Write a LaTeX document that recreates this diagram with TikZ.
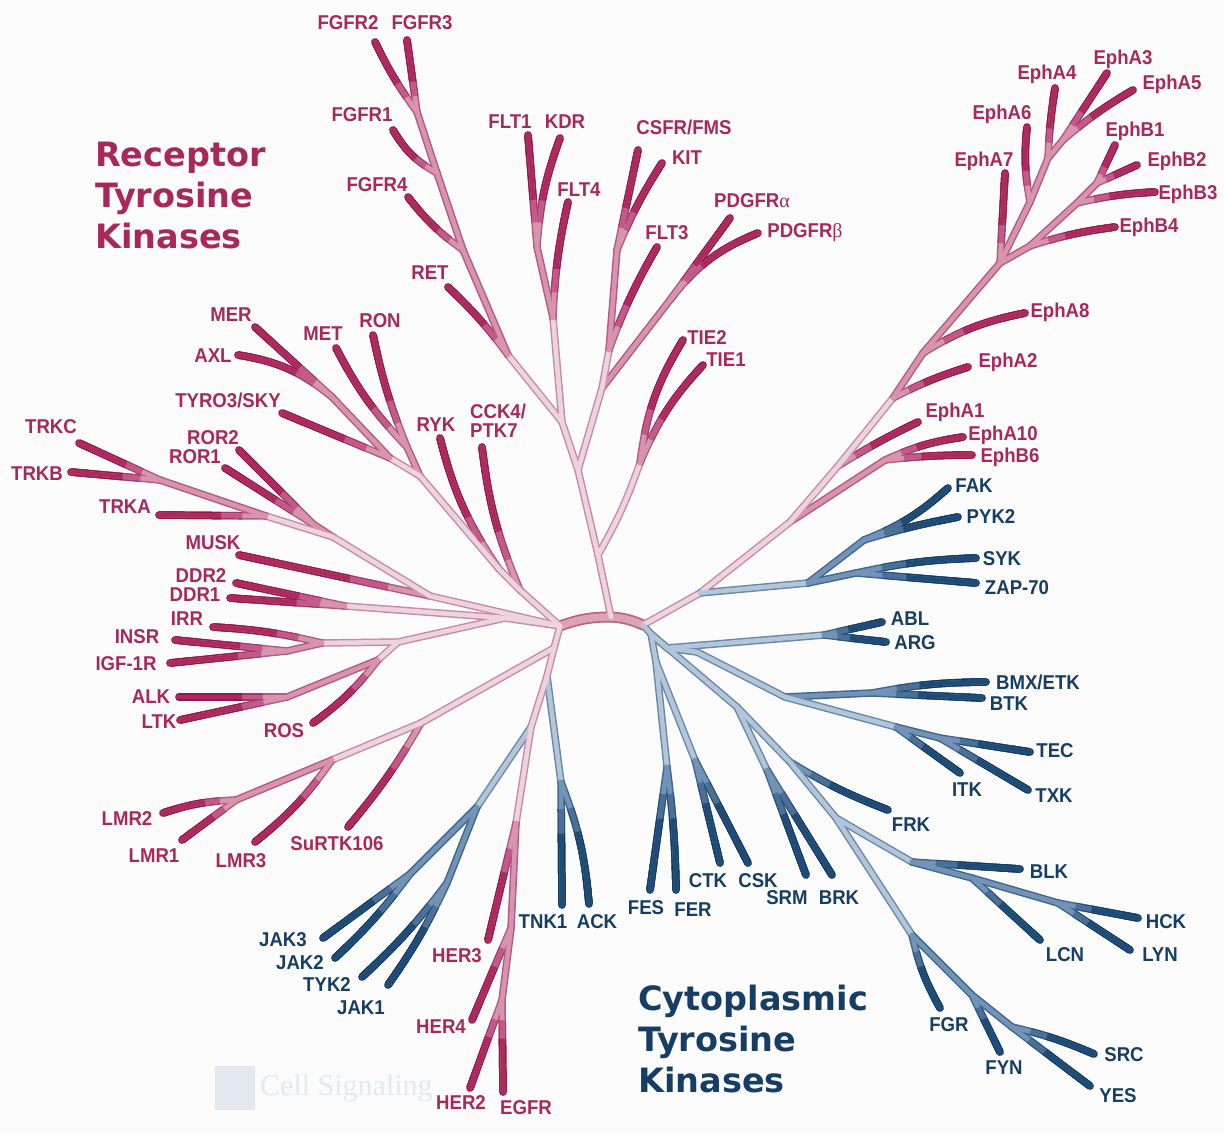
\documentclass[tikz,border=0pt]{standalone}
\usepackage{fontspec}
\setmainfont{Liberation Sans}
\newfontfamily\labfont[FakeStretch=0.93]{Liberation Sans}
\newfontfamily\titfont{DejaVu Sans}
\newfontfamily\grkfont{Liberation Serif}
\newfontfamily\wmfont{Liberation Serif}
\definecolor{bgc}{HTML}{FBFBFB}
\definecolor{pklab}{HTML}{A8285A}
\definecolor{bllab}{HTML}{163E64}
\definecolor{pkLo}{HTML}{C68CA5}
\definecolor{pkLi}{HTML}{EDD3DE}
\definecolor{pkMo}{HTML}{B25A80}
\definecolor{pkMi}{HTML}{D893AF}
\definecolor{pkXo}{HTML}{A3386A}
\definecolor{pkXi}{HTML}{C25987}
\definecolor{pkDo}{HTML}{94184A}
\definecolor{pkDi}{HTML}{AC2A5E}
\definecolor{blLo}{HTML}{6A88A8}
\definecolor{blLi}{HTML}{B3C5D8}
\definecolor{blMo}{HTML}{3F668E}
\definecolor{blMi}{HTML}{7393B6}
\definecolor{blXo}{HTML}{2A5078}
\definecolor{blXi}{HTML}{4A7098}
\definecolor{blDo}{HTML}{143A5E}
\definecolor{blDi}{HTML}{1F4C77}
\definecolor{barO}{HTML}{B5627F}
\definecolor{barI}{HTML}{DCA3B7}
\definecolor{wmc}{HTML}{E3E9EE}
\newdimen\lax \newdimen\lay \newdimen\lbx \newdimen\lby
\newcommand\ted[4]{\draw[#1] (#2) to[#4] (#3);}
\newcommand\tlf[4]{%
 \pgfextractx{\lax}{\pgfpointanchor{#2}{center}}%
 \pgfextracty{\lay}{\pgfpointanchor{#2}{center}}%
 \pgfextractx{\lbx}{\pgfpointanchor{#3}{center}}%
 \pgfextracty{\lby}{\pgfpointanchor{#3}{center}}%
 \pgfmathsetmacro\lla{0.22*veclen(\lbx-\lax,\lby-\lay)}%
 \pgfmathsetmacro\llb{0.42*veclen(\lbx-\lax,\lby-\lay)}%
 \pgfmathsetmacro\llc{0.80*veclen(\lbx-\lax,\lby-\lay)}%
 \draw[#1M] (#2) to[#4] (#3);%
 \draw[#1X,line cap=butt,dash pattern=on 3000pt off \lla pt,dash phase=3000pt] (#2) to[#4] (#3);%
 \draw[#1D,line cap=butt,dash pattern=on 3000pt off \llb pt,dash phase=3000pt] (#2) to[#4] (#3);%
 \draw[#1D,dash pattern=on 3000pt off \llc pt,dash phase=3000pt] (#2) to[#4] (#3);}
\newcommand\passouter{\tikzset{
 pkL/.style={line width=7.5pt,draw=pkLo,line cap=round},
 pkM/.style={line width=7.5pt,draw=pkMo,line cap=round},
 pkX/.style={line width=7.5pt,draw=pkXo,line cap=round},
 pkD/.style={line width=7.5pt,draw=pkDo,line cap=round},
 blL/.style={line width=7.5pt,draw=blLo,line cap=round},
 blM/.style={line width=7.5pt,draw=blMo,line cap=round},
 blX/.style={line width=7.5pt,draw=blXo,line cap=round},
 blD/.style={line width=7.5pt,draw=blDo,line cap=round},
 bar/.style={line width=11pt,draw=barO,line cap=round}}}
\newcommand\passinner{\tikzset{
 pkL/.style={line width=4.6pt,draw=pkLi,line cap=round},
 pkM/.style={line width=4.6pt,draw=pkMi,line cap=round},
 pkX/.style={line width=4.6pt,draw=pkXi,line cap=round},
 pkD/.style={line width=4.6pt,draw=pkDi,line cap=round},
 blL/.style={line width=4.6pt,draw=blLi,line cap=round},
 blM/.style={line width=4.6pt,draw=blMi,line cap=round},
 blX/.style={line width=4.6pt,draw=blXi,line cap=round},
 blD/.style={line width=4.6pt,draw=blDi,line cap=round},
 bar/.style={line width=7.6pt,draw=barI,line cap=round}}}
\newcommand\drawtree{%
\draw[bar] (CL) to[bend left=10] (CM) to[bend left=10] (CR);
% ---- top clade
\ted{pkL}{CM}{A1}{}
\ted{pkL}{A1}{TJ}{bend right=5}
\tlf{pk}{TJ}{tTIE2}{bend left=12}
\tlf{pk}{TJ}{tTIE1}{bend left=10}
\ted{pkL}{A1}{A2}{}
\ted{pkL}{A2}{B1}{}
\ted{pkM}{B1}{PD}{}
\tlf{pk}{PD}{tPDGFRa}{}
\tlf{pk}{PD}{tPDGFRb}{bend left=15}
\ted{pkL}{B1}{B2}{}
\tlf{pk}{B2}{tFLT3}{bend left=5}
\ted{pkM}{B2}{B3}{}
\tlf{pk}{B3}{tCSFR}{}
\tlf{pk}{B3}{tKIT}{bend left=5}
\ted{pkL}{A2}{A3}{}
\ted{pkL}{A3}{F1}{}
\tlf{pk}{F1}{tFLT4}{bend left=5}
\ted{pkM}{F1}{F2}{}
\tlf{pk}{F2}{tFLT1}{}
\tlf{pk}{F2}{tKDR}{bend left=8}
\ted{pkL}{A3}{R0}{}
\tlf{pk}{R0}{tRET}{bend right=5}
\ted{pkM}{R0}{G4}{}
\tlf{pk}{G4}{tFGFR4}{bend left=8}
\ted{pkM}{G4}{G1}{}
\tlf{pk}{G1}{tFGFR1}{bend left=15}
\ted{pkM}{G1}{G23}{}
\tlf{pk}{G23}{tFGFR2}{bend left=5}
\tlf{pk}{G23}{tFGFR3}{}
% ---- upper left clade
\ted{pkL}{CL}{U0}{}
\tlf{pk}{U0}{tCCK4}{bend left=8}
\ted{pkL}{U0}{U1}{}
\tlf{pk}{U1}{tRYK}{bend left=10}
\ted{pkL}{U1}{U2}{}
\ted{pkM}{U2}{MR}{}
\tlf{pk}{MR}{tMET}{bend left=8}
\tlf{pk}{MR}{tRON}{bend left=5}
\ted{pkL}{U2}{U3}{}
\tlf{pk}{U3}{tTYRO3}{}
\ted{pkM}{U3}{MA}{}
\tlf{pk}{MA}{tMER}{}
\tlf{pk}{MA}{tAXL}{bend right=15}
% ---- TRK / ROR / MUSK
\ted{pkL}{CL}{K0}{}
\tlf{pk}{K0}{tMUSK}{}
\ted{pkL}{K0}{K1}{}
\ted{pkM}{K1}{RR}{}
\tlf{pk}{RR}{tROR2}{}
\tlf{pk}{RR}{tROR1}{}
\ted{pkL}{K1}{K2}{}
\tlf{pk}{K2}{tTRKA}{}
\ted{pkM}{K2}{K3}{}
\tlf{pk}{K3}{tTRKC}{}
\tlf{pk}{K3}{tTRKB}{}
% ---- DDR / insulin / ALK
\ted{pkL}{CL}{LL}{}
\ted{pkL}{LL}{DD}{}
\tlf{pk}{DD}{tDDR2}{}
\tlf{pk}{DD}{tDDR1}{}
\ted{pkL}{LL}{IN0}{}
\ted{pkL}{IN0}{IR}{}
\tlf{pk}{IR}{tIRR}{bend right=5}
\ted{pkM}{IR}{IG}{}
\tlf{pk}{IG}{tINSR}{}
\tlf{pk}{IG}{tIGF}{}
\ted{pkL}{IN0}{AL}{}
\tlf{pk}{AL}{tROS}{bend left=8}
\ted{pkM}{AL}{AK}{}
\tlf{pk}{AK}{tALK}{}
\tlf{pk}{AK}{tLTK}{}
% ---- lower clade
\ted{pkL}{CL}{D1}{}
\ted{pkL}{D1}{LM0}{}
\tlf{pk}{LM0}{tSuRTK}{bend left=5}
\ted{pkL}{LM0}{LM1}{}
\tlf{pk}{LM1}{tLMR3}{bend left=8}
\ted{pkM}{LM1}{LM2}{}
\tlf{pk}{LM2}{tLMR2}{bend right=8}
\tlf{pk}{LM2}{tLMR1}{}
\ted{pkL}{D1}{D2}{}
\ted{blL}{D2}{TA}{}
\tlf{bl}{TA}{tTNK1}{}
\tlf{bl}{TA}{tACK}{bend left=8}
\ted{pkL}{D2}{D3}{}
\ted{blL}{D3}{J0}{}
\ted{blM}{J0}{JJ}{}
\tlf{bl}{JJ}{tJAK3}{}
\tlf{bl}{JJ}{tJAK2}{bend left=5}
\ted{blM}{J0}{TK}{}
\tlf{bl}{TK}{tTYK2}{bend left=5}
\tlf{bl}{TK}{tJAK1}{bend left=5}
\ted{pkL}{D3}{H0}{}
\tlf{pk}{H0}{tHER3}{}
\ted{pkM}{H0}{H1}{}
\tlf{pk}{H1}{tHER4}{}
\ted{pkM}{H1}{H2}{}
\tlf{pk}{H2}{tHER2}{}
\tlf{pk}{H2}{tEGFR}{}
% ---- Eph clade
\ted{pkL}{CR}{E1}{}
\ted{pkL}{E1}{E2}{}
\ted{pkM}{E2}{EAB}{}
\tlf{pk}{EAB}{tEphA10}{bend left=8}
\tlf{pk}{EAB}{tEphB6}{bend left=3}
\ted{pkL}{E2}{E3}{}
\tlf{pk}{E3}{tEphA1}{bend left=3}
\ted{pkL}{E3}{E4}{}
\tlf{pk}{E4}{tEphA2}{bend left=5}
\ted{pkM}{E4}{E5}{}
\tlf{pk}{E5}{tEphA8}{bend left=10}
\ted{pkM}{E5}{E0}{}
\ted{pkM}{E0}{EB4}{}
\tlf{pk}{EB4}{tEphB4}{bend left=5}
\ted{pkM}{EB4}{EB3}{}
\tlf{pk}{EB3}{tEphB3}{bend left=5}
\ted{pkM}{EB3}{EB12}{}
\tlf{pk}{EB12}{tEphB1}{}
\tlf{pk}{EB12}{tEphB2}{}
\tlf{pk}{E0}{tEphA7}{}
\ted{pkM}{E0}{EA1}{}
\tlf{pk}{EA1}{tEphA6}{bend left=8}
\ted{pkM}{EA1}{EA2}{}
\tlf{pk}{EA2}{tEphA4}{bend left=3}
\ted{pkM}{EA2}{EA3}{}
\tlf{pk}{EA3}{tEphA3}{}
\tlf{pk}{EA3}{tEphA5}{bend left=5}
% ---- blue clades
\ted{blL}{E1}{FK0}{}
\ted{blM}{FK0}{FP}{}
\tlf{bl}{FP}{tFAK}{bend right=10}
\tlf{bl}{FP}{tPYK2}{bend left=3}
\ted{blM}{FK0}{SZ}{}
\tlf{bl}{SZ}{tSYK}{bend left=5}
\tlf{bl}{SZ}{tZAP}{}
\ted{blL}{CR}{B0}{}
\ted{blL}{B0}{F1b}{}
\ted{blL}{F1b}{FF}{}
\tlf{bl}{FF}{tFES}{}
\tlf{bl}{FF}{tFER}{bend left=3}
\ted{blL}{F1b}{CC}{}
\tlf{bl}{CC}{tCTK}{}
\tlf{bl}{CC}{tCSK}{}
\ted{blL}{B0}{Q2}{}
\ted{blL}{Q2}{AB}{}
\tlf{bl}{AB}{tABL}{}
\tlf{bl}{AB}{tARG}{}
\ted{blL}{Q2}{Q3}{}
\ted{blL}{Q3}{T1}{}
\ted{blM}{T1}{BB}{}
\tlf{bl}{BB}{tBMX}{bend left=5}
\tlf{bl}{BB}{tBTK}{}
\ted{blL}{T1}{T2}{}
\tlf{bl}{T2}{tITK}{}
\ted{blM}{T2}{TT}{}
\tlf{bl}{TT}{tTEC}{}
\tlf{bl}{TT}{tTXK}{}
\ted{blL}{B0}{M1}{}
\ted{blL}{M1}{SB}{}
\tlf{bl}{SB}{tSRM}{}
\tlf{bl}{SB}{tBRK}{}
\ted{blL}{M1}{M2}{}
\tlf{bl}{M2}{tFRK}{bend right=5}
\ted{blL}{M2}{S1}{}
\ted{blL}{S1}{L1}{}
\tlf{bl}{L1}{tBLK}{}
\ted{blM}{L1}{L2}{}
\tlf{bl}{L2}{tLCN}{}
\ted{blM}{L2}{HL}{}
\tlf{bl}{HL}{tHCK}{}
\tlf{bl}{HL}{tLYN}{}
\ted{blL}{S1}{G1s}{}
\tlf{bl}{G1s}{tFGR}{bend right=8}
\ted{blM}{G1s}{G2s}{}
\tlf{bl}{G2s}{tFYN}{}
\ted{blM}{G2s}{SY}{}
\tlf{bl}{SY}{tSRC}{bend left=5}
\tlf{bl}{SY}{tYES}{}
}
\begin{document}
\begin{tikzpicture}[x=1pt,y=-1pt,
  lab/.style={font=\labfont\bfseries\fontsize{20}{19}\selectfont,inner sep=0pt,anchor=base},
  pk/.style={lab,text=pklab},
  bl/.style={lab,text=bllab},
  ttl/.style={font=\titfont\bfseries\fontsize{33.5}{41}\selectfont,inner sep=0pt,anchor=base west}]
\fill[bgc] (0,0) rectangle (1224,1133);
\useasboundingbox (0,0) rectangle (1224,1133);
% ---------- coordinates
\coordinate (CL) at (560,626); \coordinate (CM) at (611,617); \coordinate (CR) at (643,625);
\coordinate (A1) at (598,555); \coordinate (TJ) at (640,463);
\coordinate (tTIE2) at (683,340); \coordinate (tTIE1) at (703,365);
\coordinate (A2) at (578,470); \coordinate (B1) at (602,388); \coordinate (PD) at (670,300);
\coordinate (tPDGFRa) at (730,218); \coordinate (tPDGFRb) at (758,233);
\coordinate (B2) at (609,350); \coordinate (tFLT3) at (657,247);
\coordinate (B3) at (617,250); \coordinate (tCSFR) at (638,150); \coordinate (tKIT) at (662,163);
\coordinate (A3) at (562,422); \coordinate (F1) at (553,318); \coordinate (tFLT4) at (568,202);
\coordinate (F2) at (537,247); \coordinate (tFLT1) at (528,135); \coordinate (tKDR) at (560,138);
\coordinate (R0) at (508,355); \coordinate (tRET) at (448,287);
\coordinate (G4) at (463,250); \coordinate (tFGFR4) at (408,197);
\coordinate (G1) at (437,173); \coordinate (tFGFR1) at (393,130);
\coordinate (G23) at (417,112); \coordinate (tFGFR2) at (375,42); \coordinate (tFGFR3) at (407,40);
\coordinate (U0) at (520,590); \coordinate (tCCK4) at (482,447);
\coordinate (U1) at (499,569); \coordinate (tRYK) at (440,438);
\coordinate (U2) at (420,476); \coordinate (MR) at (407,447);
\coordinate (tMET) at (336,348); \coordinate (tRON) at (373,335);
\coordinate (U3) at (390,458); \coordinate (tTYRO3) at (282,413);
\coordinate (MA) at (332,397); \coordinate (tMER) at (255,327); \coordinate (tAXL) at (238,355);
\coordinate (K0) at (430,596); \coordinate (tMUSK) at (239,555);
\coordinate (K1) at (333,537); \coordinate (RR) at (313,524);
\coordinate (tROR2) at (239,450); \coordinate (tROR1) at (225,468);
\coordinate (K2) at (266,516); \coordinate (tTRKA) at (159,515);
\coordinate (K3) at (160,480); \coordinate (tTRKC) at (79,443); \coordinate (tTRKB) at (71,472);
\coordinate (LL) at (505,618); \coordinate (DD) at (345,606);
\coordinate (tDDR2) at (236,583); \coordinate (tDDR1) at (230,598);
\coordinate (IN0) at (398,642); \coordinate (IR) at (322,643); \coordinate (tIRR) at (213,627);
\coordinate (IG) at (287,651); \coordinate (tINSR) at (175,640); \coordinate (tIGF) at (170,663);
\coordinate (AL) at (378,660); \coordinate (tROS) at (313,723);
\coordinate (AK) at (287,697); \coordinate (tALK) at (179,697); \coordinate (tLTK) at (180,720);
\coordinate (D1) at (554,648); \coordinate (LM0) at (421,723); \coordinate (tSuRTK) at (348,827);
\coordinate (LM1) at (332,760); \coordinate (tLMR3) at (255,842);
\coordinate (LM2) at (236,800); \coordinate (tLMR2) at (163,813); \coordinate (tLMR1) at (182,840);
\coordinate (D2) at (547,676); \coordinate (TA) at (561,782);
\coordinate (tTNK1) at (562,905); \coordinate (tACK) at (589,904);
\coordinate (D3) at (531,727); \coordinate (J0) at (477,807);
\coordinate (JJ) at (410,874); \coordinate (tJAK3) at (323,938); \coordinate (tJAK2) at (335,958);
\coordinate (TK) at (447,883); \coordinate (tTYK2) at (362,977); \coordinate (tJAK1) at (388,985);
\coordinate (H0) at (516,823); \coordinate (tHER3) at (488,940);
\coordinate (H1) at (511,928); \coordinate (tHER4) at (472,1020);
\coordinate (H2) at (502,1000); \coordinate (tHER2) at (470,1088); \coordinate (tEGFR) at (503,1092);
\coordinate (E1) at (700,593); \coordinate (E2) at (790,522);
\coordinate (EAB) at (885,460); \coordinate (tEphA10) at (963,437); \coordinate (tEphB6) at (972,455);
\coordinate (E3) at (838,466); \coordinate (tEphA1) at (918,422);
\coordinate (E4) at (893,398); \coordinate (tEphA2) at (968,367);
\coordinate (E5) at (923,353); \coordinate (tEphA8) at (1025,313);
\coordinate (E0) at (1000,263);
\coordinate (EB4) at (1030,246); \coordinate (tEphB4) at (1115,227);
\coordinate (EB3) at (1077,203); \coordinate (tEphB3) at (1155,192);
\coordinate (EB12) at (1097,183); \coordinate (tEphB1) at (1115,145); \coordinate (tEphB2) at (1137,165);
\coordinate (tEphA7) at (1005,173);
\coordinate (EA1) at (1030,202); \coordinate (tEphA6) at (1027,127);
\coordinate (EA2) at (1048,158); \coordinate (tEphA4) at (1055,88);
\coordinate (EA3) at (1063,140); \coordinate (tEphA3) at (1107,73); \coordinate (tEphA5) at (1133,90);
\coordinate (FK0) at (808,583); \coordinate (FP) at (864,540);
\coordinate (tFAK) at (948,488); \coordinate (tPYK2) at (958,517);
\coordinate (SZ) at (856,573); \coordinate (tSYK) at (976,558); \coordinate (tZAP) at (976,583);
\coordinate (B0) at (651,634); \coordinate (F1b) at (656,662);
\coordinate (FF) at (667,767); \coordinate (tFES) at (650,890); \coordinate (tFER) at (676,890);
\coordinate (CC) at (695,760); \coordinate (tCTK) at (720,863); \coordinate (tCSK) at (748,863);
\coordinate (Q2) at (667,648); \coordinate (AB) at (824,635);
\coordinate (tABL) at (882,622); \coordinate (tARG) at (886,642);
\coordinate (Q3) at (697,652); \coordinate (T1) at (785,697);
\coordinate (BB) at (872,693); \coordinate (tBMX) at (986,682); \coordinate (tBTK) at (982,698);
\coordinate (T2) at (896,727); \coordinate (tITK) at (960,773);
\coordinate (TT) at (940,738); \coordinate (tTEC) at (1030,752); \coordinate (tTXK) at (1028,790);
\coordinate (M1) at (737,707); \coordinate (SB) at (767,770);
\coordinate (tSRM) at (806,875); \coordinate (tBRK) at (832,875);
\coordinate (M2) at (790,762); \coordinate (tFRK) at (888,810);
\coordinate (S1) at (836,818);
\coordinate (L1) at (912,862); \coordinate (tBLK) at (1020,869);
\coordinate (L2) at (972,878); \coordinate (tLCN) at (1040,940);
\coordinate (HL) at (1058,903); \coordinate (tHCK) at (1138,918); \coordinate (tLYN) at (1130,950);
\coordinate (G1s) at (912,935); \coordinate (tFGR) at (940,1008);
\coordinate (G2s) at (972,995); \coordinate (tFYN) at (1000,1052);
\coordinate (SY) at (1012,1027); \coordinate (tSRC) at (1094,1054); \coordinate (tYES) at (1090,1086);
% ---------- watermark
\node[fill=wmc,minimum width=40pt,minimum height=44pt,inner sep=0pt] (wmlogo) at (235,1088) {};
\node[font=\wmfont\fontsize{30}{30}\selectfont,text=wmc,anchor=base west,inner sep=0pt] (wmtext) at (260,1095) {Cell Signaling};
% ---------- branches (outline pass, then fill pass)
\passouter\drawtree
\passinner\drawtree
% ---------- titles
\node[ttl,text=pklab] (tRTK) at (95,166) {\begin{tabular}[t]{@{}l@{}}Receptor\\Tyrosine\\Kinases\end{tabular}};
\node[ttl,text=bllab] (tCTKs) at (638,1010) {\begin{tabular}[t]{@{}l@{}}Cytoplasmic\\Tyrosine\\Kinases\end{tabular}};
% ---------- pink labels
\node[pk] (nFGFR2) at (348,29) {FGFR2};
\node[pk] (nFGFR3) at (422,29) {FGFR3};
\node[pk] (nFGFR1) at (362,121) {FGFR1};
\node[pk] (nFGFR4) at (377,191) {FGFR4};
\node[pk] (nRET) at (430,279) {RET};
\node[pk] (nFLT1) at (510,128) {FLT1};
\node[pk] (nKDR) at (565,128) {KDR};
\node[pk] (nFLT4) at (579,196) {FLT4};
\node[pk] (nCSFR) at (684,134) {CSFR/FMS};
\node[pk] (nKIT) at (687,164) {KIT};
\node[pk] (nFLT3) at (667,239) {FLT3};
\node[pk] (nPDGFRa) at (752,207) {PDGFR{\grkfont\mdseries α}};
\node[pk] (nPDGFRb) at (805,237) {PDGFR{\grkfont\mdseries β}};
\node[pk] (nTIE2) at (707,344) {TIE2};
\node[pk] (nTIE1) at (726,366) {TIE1};
\node[pk] (nMER) at (231,321) {MER};
\node[pk] (nAXL) at (213,362) {AXL};
\node[pk] (nMET) at (323,340) {MET};
\node[pk] (nRON) at (380,327) {RON};
\node[pk] (nTYRO3) at (228,407) {TYRO3/SKY};
\node[pk] (nRYK) at (436,431) {RYK};
\node[pk,anchor=base west] (nCCK4) at (470,418) {\begin{tabular}[t]{@{}l@{}}CCK4/\\PTK7\end{tabular}};
\node[pk] (nTRKC) at (51,433) {TRKC};
\node[pk] (nROR2) at (213,444) {ROR2};
\node[pk] (nROR1) at (195,463) {ROR1};
\node[pk] (nTRKB) at (37,480) {TRKB};
\node[pk] (nTRKA) at (125,513) {TRKA};
\node[pk] (nMUSK) at (213,549) {MUSK};
\node[pk] (nDDR2) at (201,582) {DDR2};
\node[pk] (nDDR1) at (195,601) {DDR1};
\node[pk] (nIRR) at (187,625) {IRR};
\node[pk] (nINSR) at (137,643) {INSR};
\node[pk] (nIGF) at (126,670) {IGF-1R};
\node[pk] (nALK) at (151,703) {ALK};
\node[pk] (nLTK) at (159,728) {LTK};
\node[pk] (nROS) at (284,737) {ROS};
\node[pk] (nLMR2) at (127,825) {LMR2};
\node[pk] (nLMR1) at (154,862) {LMR1};
\node[pk] (nLMR3) at (241,867) {LMR3};
\node[pk] (nSuRTK) at (337,850) {SuRTK106};
\node[pk] (nHER3) at (457,962) {HER3};
\node[pk] (nHER4) at (441,1033) {HER4};
\node[pk] (nHER2) at (461,1109) {HER2};
\node[pk] (nEGFR) at (526,1114) {EGFR};
\node[pk] (nEphA3) at (1123,64) {EphA3};
\node[pk] (nEphA4) at (1047,79) {EphA4};
\node[pk] (nEphA5) at (1172,89) {EphA5};
\node[pk] (nEphA6) at (1002,119) {EphA6};
\node[pk] (nEphB1) at (1135,136) {EphB1};
\node[pk] (nEphA7) at (984,166) {EphA7};
\node[pk] (nEphB2) at (1177,166) {EphB2};
\node[pk] (nEphB3) at (1188,199) {EphB3};
\node[pk] (nEphB4) at (1149,232) {EphB4};
\node[pk] (nEphA8) at (1060,317) {EphA8};
\node[pk] (nEphA2) at (1008,367) {EphA2};
\node[pk] (nEphA1) at (955,417) {EphA1};
\node[pk] (nEphA10) at (1003,440) {EphA10};
\node[pk] (nEphB6) at (1010,462) {EphB6};
% ---------- blue labels
\node[bl] (nFAK) at (974,492) {FAK};
\node[bl] (nPYK2) at (991,523) {PYK2};
\node[bl] (nSYK) at (1002,565) {SYK};
\node[bl] (nZAP) at (1017,594) {ZAP-70};
\node[bl] (nABL) at (910,625) {ABL};
\node[bl] (nARG) at (915,649) {ARG};
\node[bl] (nBMX) at (1038,689) {BMX/ETK};
\node[bl] (nBTK) at (1009,710) {BTK};
\node[bl] (nTEC) at (1055,757) {TEC};
\node[bl] (nITK) at (967,796) {ITK};
\node[bl] (nTXK) at (1054,802) {TXK};
\node[bl] (nFRK) at (911,831) {FRK};
\node[bl] (nBLK) at (1049,878) {BLK};
\node[bl] (nHCK) at (1166,928) {HCK};
\node[bl] (nLCN) at (1065,961) {LCN};
\node[bl] (nLYN) at (1160,961) {LYN};
\node[bl] (nFGR) at (949,1031) {FGR};
\node[bl] (nFYN) at (1004,1074) {FYN};
\node[bl] (nSRC) at (1124,1061) {SRC};
\node[bl] (nYES) at (1118,1102) {YES};
\node[bl] (nFES) at (646,914) {FES};
\node[bl] (nFER) at (693,916) {FER};
\node[bl] (nCTK) at (708,887) {CTK};
\node[bl] (nCSK) at (758,887) {CSK};
\node[bl] (nSRM) at (787,904) {SRM};
\node[bl] (nBRK) at (839,904) {BRK};
\node[bl] (nTNK1) at (543,928) {TNK1};
\node[bl] (nACK) at (597,928) {ACK};
\node[bl] (nJAK3) at (283,946) {JAK3};
\node[bl] (nJAK2) at (300,969) {JAK2};
\node[bl] (nTYK2) at (327,991) {TYK2};
\node[bl] (nJAK1) at (361,1014) {JAK1};
\end{tikzpicture}
\end{document}
